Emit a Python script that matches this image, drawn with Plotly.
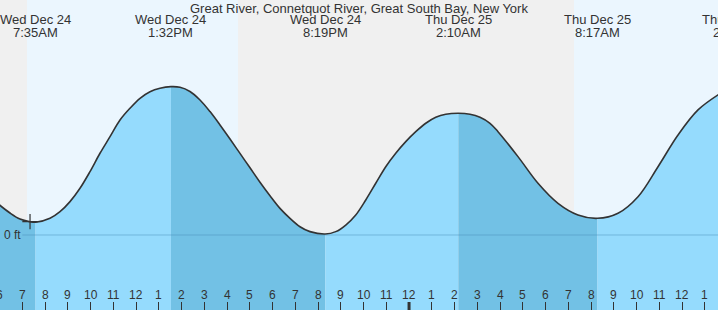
import plotly.graph_objects as go

# ---- data (hours since Wed Dec 24 00:00, tide height in ft) ----
tide_hours = [6.00, 6.459, 6.899, 7.338, 7.583, 8.218, 8.657, 9.097, 9.536, 9.976,
              10.415, 10.855, 11.295, 11.734, 12.174, 12.613, 13.053, 13.533,
              13.932, 14.371, 14.811, 15.251, 15.690, 16.130, 16.569, 17.009, 17.448,
              17.888, 18.327, 18.767, 19.206, 19.646, 20.317,
              20.778, 21.218, 21.657, 22.097, 22.536, 22.976, 23.415, 23.855, 24.295,
              24.734, 25.174, 25.613, 26.167,
              26.679, 27.119, 27.558, 27.910, 28.789, 29.668, 30.547, 31.426, 32.283,
              33.185, 34.064, 34.943, 35.822, 36.701, 37.60]
tide_ft = [0.250, 0.183, 0.133, 0.111, 0.106, 0.139, 0.194, 0.278, 0.389, 0.528,
           0.681, 0.819, 0.958, 1.056, 1.139, 1.194, 1.223, 1.236,
           1.231, 1.196, 1.125, 1.028, 0.917, 0.800, 0.680, 0.560, 0.440,
           0.327, 0.222, 0.139, 0.069, 0.028, 0.008,
           0.028, 0.083, 0.167, 0.292, 0.431, 0.569, 0.681, 0.778, 0.861,
           0.931, 0.981, 1.006, 1.014,
           1.006, 0.981, 0.931, 0.861, 0.653, 0.431, 0.264, 0.167, 0.139,
           0.181, 0.319, 0.569, 0.833, 1.042, 1.170]

event_hours = [7.583, 13.533, 20.317, 26.167, 32.283, 38.35]
event_days = ["Wed Dec 24", "Wed Dec 24", "Wed Dec 24", "Thu Dec 25", "Thu Dec 25", "Thu Dec 25"]
event_times = ["7:35AM", "1:32PM", "8:19PM", "2:10AM", "8:17AM", "2:21PM"]

sun_rise = [7.207, 31.25]
sun_set = [16.481, 40.0]

tick_hours = list(range(6, 39))
tick_labels = [str((h % 12) or 12) for h in tick_hours]

now_hour = 7.34
now_ft = 0.111

title = "Great River, Connetquot River, Great South Bay, New York"

# ---- style ----
X0, X1 = 6.020, 37.580
Y0, Y1 = -0.625, 1.958
NIGHT = "#f0f0f0"
DAY = "#ebf6fe"
RISE = "#95dbfd"
FALL = "#72c1e5"
TXT = "#333333"
FONT = "Liberation Sans, Arial, sans-serif"

fig = go.Figure()

# fills per tide segment
bounds = [tide_hours[0]] + event_hours[:5] + [tide_hours[-1]]
for i in range(len(bounds) - 1):
    a, b = bounds[i], bounds[i + 1]
    xs = [h for h in tide_hours if a - 1e-9 <= h <= b + 1e-9]
    ys = [f for h, f in zip(tide_hours, tide_ft) if a - 1e-9 <= h <= b + 1e-9]
    falling = ys[0] > ys[-1]
    fig.add_trace(go.Scatter(x=[xs[0], xs[-1]], y=[Y0, Y0], mode="lines",
                             line=dict(width=0), hoverinfo="skip"))
    fig.add_trace(go.Scatter(x=xs, y=ys, mode="lines", fill="tonexty",
                             fillcolor=FALL if falling else RISE,
                             line=dict(width=0, shape="spline"), hoverinfo="skip"))

# zero line
fig.add_trace(go.Scatter(x=[7.0, X1], y=[0, 0], mode="lines",
                         line=dict(color="rgba(70,140,185,0.45)", width=1), hoverinfo="skip"))

# tide curve
fig.add_trace(go.Scatter(x=tide_hours, y=tide_ft, mode="lines",
                         line=dict(color="#333333", width=1.6, shape="spline"), hoverinfo="skip"))

# current-time marker
fig.add_trace(go.Scatter(x=[now_hour], y=[now_ft], mode="markers",
                         marker=dict(symbol="cross-thin", size=11, line=dict(color="#333333", width=1.2)),
                         hoverinfo="skip"))

shapes = []
for r, s in zip(sun_rise, sun_set):
    shapes.append(dict(type="rect", xref="x", yref="paper", x0=r, x1=s, y0=0, y1=1,
                       fillcolor=DAY, line=dict(width=0), layer="below"))
# midnight thick tick
for h in tick_hours:
    if h % 24 == 0:
        shapes.append(dict(type="line", xref="x", yref="paper", x0=h, x1=h,
                           ysizemode="pixel", yanchor=0, y0=0, y1=8,
                           line=dict(color="#333333", width=3)))

def px(h):
    return (h - X0) / (X1 - X0)

ann = []
ann.append(dict(text=title, xref="paper", yref="paper", x=0.5, y=1, yanchor="middle",
                yshift=-8, showarrow=False, font=dict(size=13, color=TXT, family=FONT)))
for h, d, t in zip(event_hours, event_days, event_times):
    ann.append(dict(text=d, xref="paper", yref="paper", x=px(h), y=1, yanchor="middle",
                    xanchor="center", yshift=-19.5, showarrow=False,
                    font=dict(size=13, color=TXT, family=FONT)))
    ann.append(dict(text=t, xref="paper", yref="paper", x=px(h), y=1, yanchor="middle",
                    xanchor="center", yshift=-32.5, showarrow=False,
                    font=dict(size=13, color=TXT, family=FONT)))
for h, lab in zip(tick_hours, tick_labels):
    ann.append(dict(text=lab, xref="paper", yref="paper", x=px(h), y=0, yanchor="middle",
                    xanchor="center", yshift=15.5, showarrow=False,
                    font=dict(size=12, color=TXT, family=FONT)))
ann.append(dict(text="0 ft", xref="paper", yref="y", x=0, y=0, xanchor="left", yanchor="middle",
                xshift=2, showarrow=False, font=dict(size=12, color=TXT, family=FONT)))

fig.update_layout(
    width=718, height=310, margin=dict(l=0, r=0, t=0, b=0),
    paper_bgcolor=NIGHT, plot_bgcolor=NIGHT, showlegend=False,
    shapes=shapes, annotations=ann,
    xaxis=dict(range=[X0, X1], showgrid=False, zeroline=False, showline=False,
               tickvals=tick_hours, ticks="inside", ticklen=8, tickwidth=1,
               tickcolor="#333333", showticklabels=False, fixedrange=True),
    yaxis=dict(range=[Y0, Y1], showgrid=False, zeroline=False, showline=False,
               showticklabels=False, fixedrange=True),
)

fig.write_html("out.html")
